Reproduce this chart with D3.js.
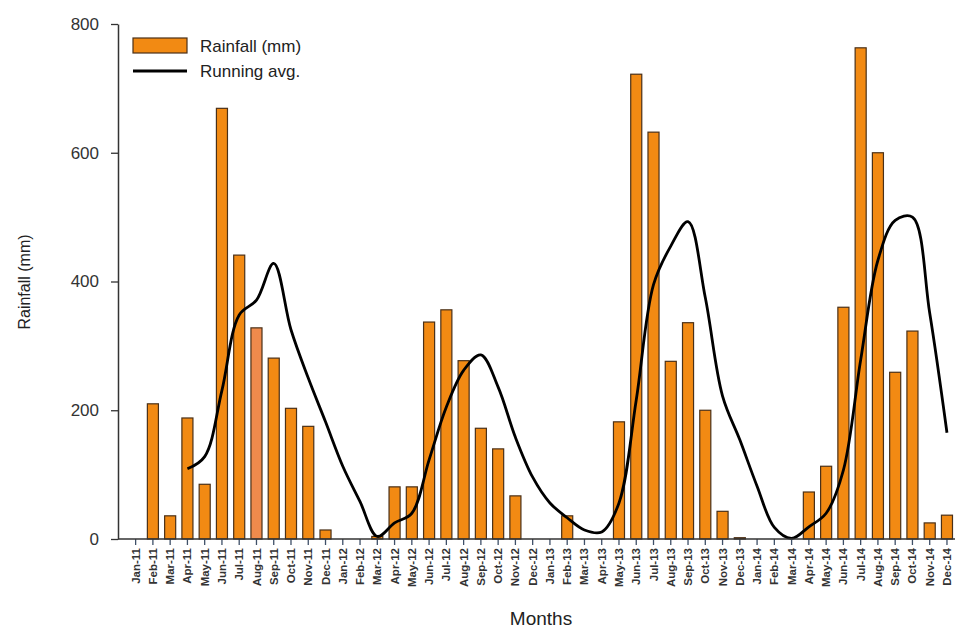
<!DOCTYPE html>
<html>
<head>
<meta charset="utf-8">
<script src="https://cdn.jsdelivr.net/npm/d3@7"></script>
<style>
  body { margin: 0; background: #fff; }
  svg { font-family: "Liberation Sans", Arial, sans-serif; }
  .axis text { fill: #333; }
</style>
</head>
<body>
<div id="chart"></div>
<script>
// monthly categories Jan-11 .. Dec-14
const years = ['11', '12', '13', '14'];
const monthNames = ['Jan', 'Feb', 'Mar', 'Apr', 'May', 'Jun', 'Jul', 'Aug', 'Sep', 'Oct', 'Nov', 'Dec'];
const months = years.flatMap(y => monthNames.map(m => `${m}-${y}`));

// rainfall (mm) per month
const rainfall = [
  0, 210, 36, 188, 85, 669, 441, 328, 281, 203, 175, 14,
  0, 0, 4, 81, 81, 337, 356, 277, 172, 140, 67, 0,
  0, 36, 0, 0, 182, 722, 632, 276, 336, 200, 43, 2,
  0, 0, 0, 73, 113, 360, 763, 600, 259, 323, 25, 37
];

// running average, starts at Apr-11
const avgMonths = months.slice(3);
const runningAvg = [
  109, 128, 231, 348, 371, 428, 325, 250, 182, 113, 58, 4,
  25, 40, 123, 205, 262, 286, 236, 158, 96, 56, 33, 14,
  11, 56, 216, 395, 455, 493, 375, 222, 154, 82, 18, 1,
  19, 40, 107, 278, 433, 495, 500, 351, 165
];

const yTicks = [0, 200, 400, 600, 800];
const highlightMonth = 'Aug-11';

const width = 955, height = 630;
const svg = d3.select('#chart').append('svg')
  .attr('width', width)
  .attr('height', height);

const axisX0 = 118;
const x = d3.scaleBand()
  .domain(months)
  .range([127, 955.6])
  .paddingInner(0.36)
  .paddingOuter(0.18);

const y = d3.scaleLinear()
  .domain([0, 800])
  .range([539, 24]);

// bars
svg.append('g')
  .selectAll('rect')
  .data(months.map((m, i) => ({ month: m, value: rainfall[i] })))
  .enter()
  .append('rect')
  .attr('x', d => x(d.month))
  .attr('width', x.bandwidth())
  .attr('y', d => y(d.value))
  .attr('height', d => y(0) - y(d.value))
  .attr('fill', d => d.month === highlightMonth ? '#ef8a4c' : '#f28a13')
  .attr('stroke', d => d.value > 0 ? '#4a3018' : 'none')
  .attr('stroke-width', 1.2);

// running average line
const line = d3.line()
  .x(d => x(d.month) + x.bandwidth() / 2)
  .y(d => y(d.value))
  .curve(d3.curveCatmullRom.alpha(0.5));

svg.append('path')
  .datum(avgMonths.map((m, i) => ({ month: m, value: runningAvg[i] })))
  .attr('d', line)
  .attr('fill', 'none')
  .attr('stroke', '#000')
  .attr('stroke-width', 2.8);

// y axis
const yAxis = svg.append('g')
  .attr('class', 'axis')
  .attr('transform', `translate(${axisX0},0)`)
  .call(d3.axisLeft(y).tickValues(yTicks).tickSize(7).tickSizeOuter(0).tickPadding(12));
yAxis.select('.domain').attr('stroke', '#333').attr('stroke-width', 1.5);
yAxis.selectAll('.tick line').attr('stroke', '#333').attr('stroke-width', 1.3);
yAxis.selectAll('.tick text').attr('font-size', 17);

// x axis
const xAxis = svg.append('g')
  .attr('class', 'axis')
  .attr('transform', `translate(0,${y(0)})`)
  .call(d3.axisBottom(x).tickSize(6).tickSizeOuter(0).tickPadding(4));
xAxis.select('.domain').remove();
xAxis.append('line')
  .attr('x1', axisX0).attr('x2', 955)
  .attr('stroke', '#333').attr('stroke-width', 1.5);
xAxis.selectAll('.tick line').attr('stroke', '#3f5068').attr('stroke-width', 1.3);
xAxis.selectAll('.tick text')
  .attr('font-size', 11.5)
  .attr('font-weight', 'bold')
  .attr('text-anchor', 'end')
  .attr('transform', 'rotate(-90)')
  .attr('x', -9)
  .attr('y', 0)
  .attr('dy', '0.35em');

// axis titles
svg.append('text')
  .attr('x', 541)
  .attr('y', 625)
  .attr('text-anchor', 'middle')
  .attr('font-size', 19)
  .attr('fill', '#222')
  .text('Months');

svg.append('text')
  .attr('transform', 'translate(30,282) rotate(-90)')
  .attr('text-anchor', 'middle')
  .attr('font-size', 16)
  .attr('fill', '#222')
  .text('Rainfall (mm)');

// legend
const legend = svg.append('g');
legend.append('rect')
  .attr('x', 133).attr('y', 38)
  .attr('width', 54).attr('height', 15)
  .attr('fill', '#f28a13')
  .attr('stroke', '#4a3018').attr('stroke-width', 1.2);
legend.append('text')
  .attr('x', 200).attr('y', 52)
  .attr('font-size', 17).attr('fill', '#222')
  .text('Rainfall (mm)');
legend.append('line')
  .attr('x1', 133).attr('x2', 187)
  .attr('y1', 71).attr('y2', 71)
  .attr('stroke', '#000').attr('stroke-width', 2.8);
legend.append('text')
  .attr('x', 200).attr('y', 77)
  .attr('font-size', 17).attr('fill', '#222')
  .text('Running avg.');
</script>
</body>
</html>
